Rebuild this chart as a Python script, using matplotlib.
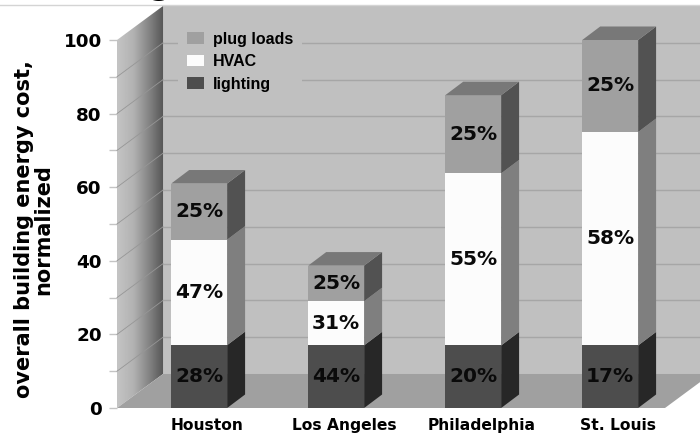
import matplotlib
matplotlib.use("Agg")
import matplotlib.pyplot as plt
from matplotlib.lines import Line2D
from matplotlib.patches import Patch, Polygon
import numpy as np

cities = ["Houston", "Los Angeles", "Philadelphia", "St. Louis"]
totals = [61, 38.7, 85, 100]
lighting_pct = [28, 44, 20, 17]
hvac_pct = [47, 31, 55, 58]
plug_pct = [25, 25, 25, 25]

# name, shares, front / side / top shades, bottom to top
layers = [
    ("lighting", lighting_pct, "#4d4d4d", "#272727", "#3a3a3a"),
    ("HVAC", hvac_pct, "#fcfcfc", "#7f7f7f", "#bbbbbb"),
    ("plug loads", plug_pct, "#a0a0a0", "#525252", "#787878"),
]

x_left, x_right = -0.6, 3.4
wall_dx, wall_dy = 0.336, 9.24
bar_dx, bar_dy = 0.131, 3.67
half_width = 0.204

fig = plt.figure(figsize=(7, 4.36), dpi=100)
ax = fig.add_axes([117 / 700, 28 / 436, 548 / 700, 368 / 436])


def poly(points, color, z):
    p = Polygon(points, closed=True, facecolor=color, edgecolor="none", zorder=z, clip_on=False)
    ax.add_patch(p)
    return p


# back wall and floor
poly([(x_left + wall_dx, wall_dy), (x_right + wall_dx, wall_dy),
      (x_right + wall_dx, 100 + wall_dy), (x_left + wall_dx, 100 + wall_dy)], "#c0c0c0", 1)
poly([(x_left, 0), (x_right, 0), (x_right + wall_dx, wall_dy), (x_left + wall_dx, wall_dy)], "#a0a0a0", 1.5)

# side wall with its horizontal shading
side = poly([(x_left, 0), (x_left + wall_dx, wall_dy),
             (x_left + wall_dx, 100 + wall_dy), (x_left, 100)], "none", 1)
shade = np.interp(np.linspace(0, 1, 64), [0, 0.35, 0.7, 1], [196, 178, 130, 85]).reshape(1, -1)
im = ax.imshow(shade, cmap="gray", vmin=0, vmax=255, aspect="auto", zorder=1,
               extent=(x_left, x_left + wall_dx, 0, 100 + wall_dy), interpolation="bilinear")
im.set_clip_box(fig.bbox)
im.set_clip_path(side)

# gridlines, every 10 on the wall and along the side
for v in range(10, 100, 10):
    ax.plot([x_left, x_left + wall_dx], [v, v + wall_dy], color="#969696", lw=0.6, zorder=2, clip_on=False)
    ax.plot([x_left + wall_dx, x_right + wall_dx], [v + wall_dy, v + wall_dy],
            color="#a6a6a6", lw=1, zorder=2, clip_on=False)

# stacked bars with side and top faces
for i, total in enumerate(totals):
    base = 0
    l, r = i - half_width, i + half_width
    for name, pct, front, right, top in layers:
        h = total * pct[i] / 100
        poly([(r, base), (r + bar_dx, base + bar_dy), (r + bar_dx, base + h + bar_dy), (r, base + h)], right, 3)
        poly([(l, base), (r, base), (r, base + h), (l, base + h)], front, 4)
        ax.text(i, base + h / 2, f"{pct[i]}%", ha="center", va="center", fontsize=14.5,
                fontweight="bold", color="#0a0a0a", zorder=6)
        base += h
    poly([(l, base), (r, base), (r + bar_dx, base + bar_dy), (l + bar_dx, base + bar_dy)], layers[-1][4], 4)

ax.set_xlim(x_left, x_right)
ax.set_ylim(0, 100)
# category names sit under the whole bar, depth included
ax.set_xticks([i + 0.058 for i in range(len(cities))], cities, fontsize=11.2, fontweight="bold")
ax.set_yticks(range(0, 101, 20))
ax.set_yticks(range(10, 100, 20), minor=True)
ax.tick_params(axis="x", length=0, pad=7)
ax.tick_params(axis="y", which="both", length=6, color="#c4c4c4", width=1, pad=5)
ax.tick_params(axis="y", which="major", labelsize=13.2)
for lab in ax.get_yticklabels():
    lab.set_fontweight("bold")
for s in ax.spines.values():
    s.set_visible(False)
ax.patch.set_visible(False)

ax.set_ylabel("overall building energy cost,\nnormalized", fontsize=15, fontweight="bold",
              linespacing=0.95)
ax.yaxis.set_label_coords(-0.117, 0.485)

handles = [Patch(facecolor=c[2], edgecolor="none", label=c[0]) for c in reversed(layers)]
leg = ax.legend(handles=handles, loc="upper left", bbox_to_anchor=(0.111, 1.047), frameon=True,
                facecolor="#c0c0c0", edgecolor="none", framealpha=1, fancybox=False,
                prop={"family": "Liberation Sans", "weight": "bold", "size": 11.5},
                handlelength=1.06, handleheight=0.72, handletextpad=0.56, labelspacing=0.47,
                borderpad=0.56, borderaxespad=0)
leg.set_zorder(5)

# rule along the top and the tail of the heading above it
fig.add_artist(Line2D([0, 1], [1 - 5 / 436, 1 - 5 / 436], color="#d4d4d4", lw=1))
fig.text(160 / 700, 1 + 6 / 436, "g", fontsize=23, fontweight="bold", ha="center", va="baseline")

fig.savefig("out.png", dpi=100)
